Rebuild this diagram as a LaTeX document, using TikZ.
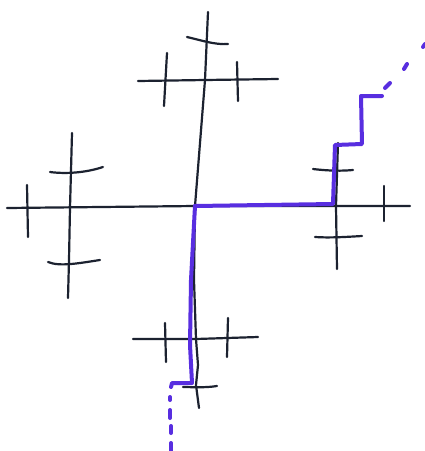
\documentclass[tikz,border=0pt]{standalone}
\begin{document}
\begin{tikzpicture}[x=1pt,y=-1pt,
  ink/.style={draw=inkc,line width=2.2pt,line cap=round},
  pen/.style={draw=penc,line width=4pt,line cap=round,line join=round},
  pendash/.style={draw=penc,line width=4pt,line cap=round}]
\definecolor{inkc}{RGB}{28,34,48}
\definecolor{penc}{RGB}{88,46,224}
\useasboundingbox (0,0) rectangle (425,451);
\fill[white] (0,0) rectangle (425,451);
% centre
\coordinate (c) at (195,206);
% main cross
\draw[ink] (7,208) -- (c) -- (410,206);
\draw[ink] (208,12) -- (205,80) -- (c) -- (194,280) -- (196,339) -- (198,365) -- (196,385) -- (199,408);
% top cross
\draw[ink] (138,81) -- (205,80) -- (278,79);
\draw[ink] (167,53) -- (164,106);
\draw[ink] (237,62) -- (238,101);
\draw[ink] (187,37) .. controls (200,40) and (215,45) .. (228,44);
% right cross
\draw[ink] (338,143) -- (336,206) -- (337,269);
\draw[ink] (384,186) -- (384,221);
\draw[ink] (313,169) .. controls (330,171) and (342,171) .. (353,170);
\draw[ink] (315,237) .. controls (330,238) and (345,237) .. (362,236);
% left cross
\draw[ink] (72,133) -- (70,208) -- (69,260) -- (68,298);
\draw[ink] (27,185) -- (28,237);
\draw[ink] (50,172) .. controls (65,174) and (85,173) .. (103,167);
\draw[ink] (48,262) .. controls (60,267) and (80,263) .. (100,260);
% bottom cross
\draw[ink] (133,339) -- (196,339) -- (258,337);
\draw[ink] (165,323) -- (166,362);
\draw[ink] (228,318) -- (227,357);
\draw[ink] (183,387) .. controls (190,387) and (205,388) .. (217,386);
% purple path
\draw[pen] (c) -- (333,204) -- (335,145) -- (362,144) -- (361,96) -- (382,96);
\draw[pen] (c) -- (191,280) -- (190,345) -- (192,383) -- (172,383) -- (171,387);
\draw[pendash] (385,88) -- (390,83);
\draw[pendash] (404,69) -- (407,64);
\draw[pendash] (423,47) -- (425,44);
\draw[pendash] (170,397) -- (170,400);
\draw[pendash] (170,410) -- (170,418);
\draw[pendash] (171,426) -- (171,433);
\draw[pendash] (171,443) -- (171,451);
\end{tikzpicture}
\end{document}
